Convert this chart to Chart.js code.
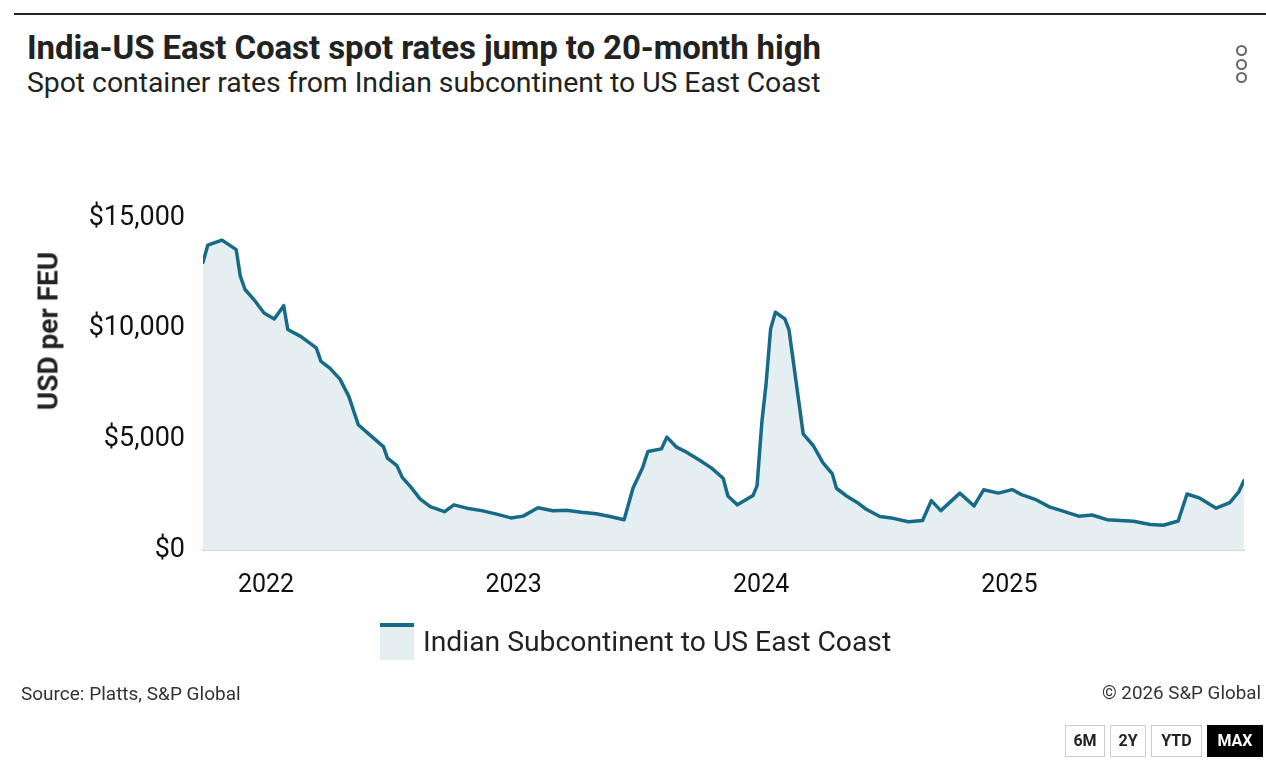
<!DOCTYPE html>
<html>
<head>
<meta charset="utf-8">
<script src="https://cdn.jsdelivr.net/npm/chart.js@4"></script>
<style>
    html, body { margin: 0; padding: 0; background: #fff; }
    body { width: 1266px; height: 765px; position: relative; overflow: hidden; font-family: Roboto, sans-serif; color: #222; }
    #topRule { position: absolute; left: 14px; right: 0; top: 13px; height: 2px; background: #222; }
    #titulo { position: absolute; left: 27px; top: 28px; font-size: 33px; font-weight: 700; letter-spacing: -0.1px; white-space: nowrap; }
    #subtitulo { position: absolute; left: 27px; top: 66px; font-size: 28.4px; font-weight: 400; letter-spacing: -0.05px; white-space: nowrap; }
    #menu { position: absolute; left: 1236px; top: 45px; }
    #menu span { display: block; width: 7px; height: 7px; border: 2px solid #666; border-radius: 50%; margin-bottom: 2.5px; }
    #grafico { position: absolute; left: 0; top: 0; }
    #ejeY { position: absolute; left: 48px; top: 331px; transform: translate(-50%, -50%) rotate(-90deg); font-size: 28px; font-weight: 700; white-space: nowrap; }
    #leyenda { position: absolute; left: 380px; top: 623px; display: flex; align-items: center; }
    #leyenda .muestra { width: 34px; height: 33px; background: #e5eff2; border-top: 4px solid #176b88; }
    #leyenda .texto { margin-left: 9px; font-size: 28.3px; }
    #fuente { position: absolute; left: 21px; top: 682px; font-size: 19px; color: #333; }
    #copy { position: absolute; right: 5px; top: 682px; font-size: 18.8px; color: #333; }
    #botones { position: absolute; left: 1065px; top: 725px; display: flex; }
    #botones div { box-sizing: border-box; height: 32px; line-height: 30px; text-align: center; border: 1px solid #ccc; font-size: 16px; font-weight: 700; margin-right: 5px; }
    #botones div.activo { background: #000; color: #fff; border-color: #000; margin-right: 0; }
</style>
</head>
<body>
<div id="topRule"></div>
<div id="titulo">India-US East Coast spot rates jump to 20-month high</div>
<div id="subtitulo">Spot container rates from Indian subcontinent to US East Coast</div>
<div id="menu"><span></span><span></span><span></span></div>
<canvas id="grafico" width="1266" height="765"></canvas>
<div id="ejeY">USD per FEU</div>
<div id="leyenda"><div class="muestra"></div><div class="texto">Indian Subcontinent to US East Coast</div></div>
<div id="fuente">Source: Platts, S&amp;P Global</div>
<div id="copy">© 2026 S&amp;P Global</div>
<div id="botones"><div style="width:40px">6M</div><div style="width:36px">2Y</div><div style="width:51px">YTD</div><div class="activo" style="width:56px">MAX</div></div>

<script>
// ========== DATOS ==========

const fechas = [
    '2021-09-30', '2021-10-07', '2021-10-28', '2021-11-18', '2021-11-24', '2021-12-01', '2021-12-16', '2021-12-29',
    '2022-01-13', '2022-01-27', '2022-02-02', '2022-02-21', '2022-03-16', '2022-03-23', '2022-04-05', '2022-04-20',
    '2022-05-03', '2022-05-17', '2022-06-03', '2022-06-23', '2022-06-29', '2022-07-13', '2022-07-21', '2022-08-02',
    '2022-08-16', '2022-08-31', '2022-09-21', '2022-10-05', '2022-10-24', '2022-11-15', '2022-12-07', '2022-12-28',
    '2023-01-15', '2023-02-06', '2023-02-28', '2023-03-20', '2023-04-11', '2023-05-03', '2023-05-23', '2023-06-13',
    '2023-06-26', '2023-07-10', '2023-07-18', '2023-08-07', '2023-08-15', '2023-08-29', '2023-09-13', '2023-10-03',
    '2023-10-20', '2023-11-06', '2023-11-13', '2023-11-27', '2023-12-20', '2023-12-26', '2024-01-02', '2024-01-08',
    '2024-01-15', '2024-01-22', '2024-02-05', '2024-02-11', '2024-03-03', '2024-03-18', '2024-04-01', '2024-04-15',
    '2024-04-21', '2024-05-06', '2024-05-21', '2024-06-04', '2024-06-24', '2024-07-14', '2024-08-05', '2024-08-26',
    '2024-09-08', '2024-09-22', '2024-10-20', '2024-11-10', '2024-11-24', '2024-12-16', '2025-01-05', '2025-01-19',
    '2025-02-08', '2025-03-01', '2025-03-20', '2025-04-13', '2025-05-03', '2025-05-25', '2025-07-03', '2025-07-28',
    '2025-08-16', '2025-09-07', '2025-09-20', '2025-10-09', '2025-11-02', '2025-11-22', '2025-12-05', '2025-12-13'
];

const tarifas = [
    13000, 13770, 14000, 13570, 12370, 11770, 11240, 10710,
    10440, 11040, 9960, 9650, 9130, 8520, 8220, 7720,
    6940, 5660, 5200, 4670, 4150, 3810, 3270, 2860,
    2310, 1960, 1730, 2040, 1890, 1780, 1620, 1450,
    1530, 1910, 1770, 1800, 1710, 1640, 1510, 1370,
    2790, 3700, 4450, 4570, 5100, 4650, 4420, 4040,
    3700, 3240, 2440, 2040, 2460, 2910, 5760, 7420,
    9990, 10740, 10440, 9960, 5250, 4710, 3950, 3440,
    2790, 2440, 2160, 1840, 1510, 1430, 1280, 1330,
    2230, 1780, 2570, 1990, 2720, 2570, 2730, 2500,
    2290, 1950, 1770, 1530, 1580, 1370, 1300, 1150,
    1120, 1310, 2530, 2340, 1890, 2140, 2610, 3140
];

const anios = [2022, 2023, 2024, 2025];
const ticksY = [0, 5000, 10000, 15000];

const nombreSerie = 'Indian Subcontinent to US East Coast';
const colorLinea = '#176b88';
const colorRelleno = '#e5eff2';

// ========== GRAFICO ==========

const puntos = fechas.map((f, i) => ({ x: Date.parse(f), y: tarifas[i] }));

const ctx = document.getElementById('grafico').getContext('2d');
const grafico = new Chart(ctx, {
    type: 'line',
    data: {
        datasets: [{
            label: nombreSerie,
            data: puntos,
            borderColor: colorLinea,
            backgroundColor: colorRelleno,
            borderWidth: 3.5,
            fill: 'origin',
            pointRadius: 0,
            tension: 0,
            borderJoinStyle: 'round',
            borderCapStyle: 'round'
        }]
    },
    options: {
        responsive: false,
        animation: false,
        layout: {
            padding: { left: 0, right: 22, top: 218, bottom: 165 }
        },
        plugins: {
            legend: { display: false },
            tooltip: { enabled: false }
        },
        scales: {
            x: {
                type: 'linear',
                min: puntos[0].x,
                max: puntos[puntos.length - 1].x,
                afterBuildTicks: function(eje) {
                    eje.ticks = anios.map(a => ({ value: Date.UTC(a, 0, 1) }));
                },
                afterFit: function(eje) {
                    eje.height = 50;
                },
                grid: { display: false },
                border: { display: true, color: '#d3dbdf', width: 2 },
                ticks: {
                    padding: 13,
                    maxRotation: 0,
                    autoSkip: false,
                    color: '#111',
                    font: { family: 'Roboto', size: 25 },
                    callback: function(valor) {
                        return new Date(valor).getUTCFullYear();
                    }
                }
            },
            y: {
                min: 0,
                max: 15000,
                afterBuildTicks: function(eje) {
                    eje.ticks = ticksY.map(v => ({ value: v }));
                },
                afterFit: function(eje) {
                    eje.width = 203;
                },
                grid: { display: false },
                border: { display: false },
                ticks: {
                    padding: 10,
                    color: '#111',
                    font: { family: 'Roboto', size: 27 },
                    callback: function(valor) {
                        return '$' + valor.toLocaleString('en-US');
                    }
                }
            }
        }
    }
});
</script>
</body>
</html>
